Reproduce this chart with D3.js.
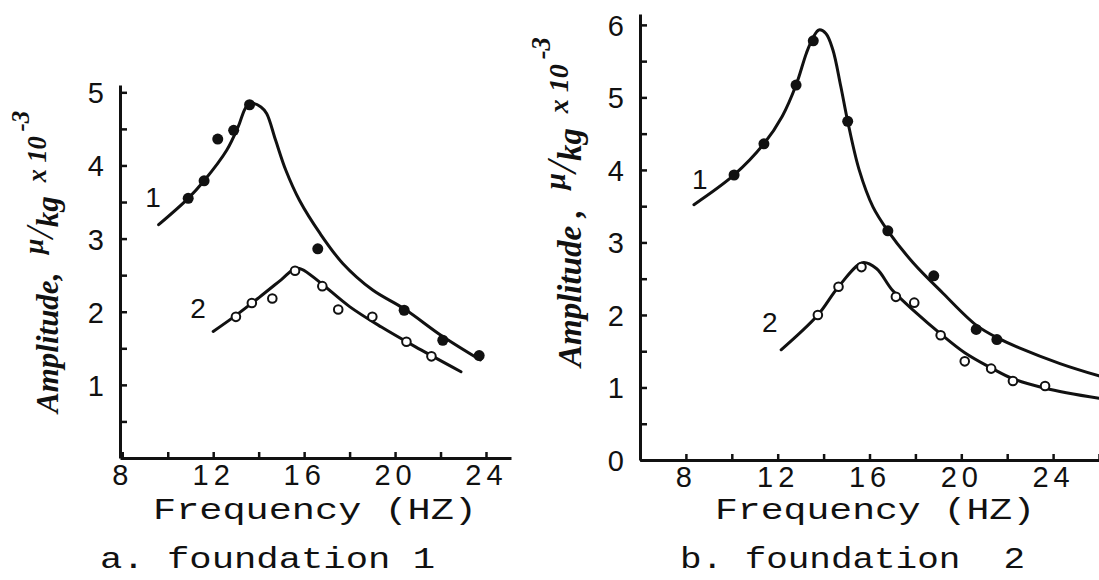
<!DOCTYPE html>
<html>
<head>
<meta charset="utf-8">
<script src="https://cdn.jsdelivr.net/npm/d3@7"></script>
<style>
  body { margin: 0; background: #fff; }
  svg { display: block; }
</style>
</head>
<body>
<div id="chart"></div>
<script>
// tick labels
var freqLabels = [8, 12, 16, 20, 24];
var freqTicks = [8, 10, 12, 14, 16, 18, 20, 22, 24, 26];
var ampTicks = [0, 0.5, 1, 1.5, 2, 2.5, 3, 3.5, 4, 4.5, 5, 5.5, 6];

// a. foundation 1 -- curve 1 (filled dots)
var a1Freq = [10.9, 11.6, 12.2, 12.9, 13.6, 16.6, 20.4, 22.1, 23.7];
var a1Amp  = [3.55, 3.79, 4.36, 4.48, 4.83, 2.86, 2.02, 1.61, 1.40];
var a1LineFreq = [9.6, 10.9, 11.6, 12.6, 13.1, 13.45, 13.7, 14.1, 14.35, 14.75, 15.2, 15.8, 16.7, 17.7, 19.0, 20.4, 22.1, 23.75];
var a1LineAmp  = [3.19, 3.55, 3.79, 4.21, 4.53, 4.80, 4.85, 4.80, 4.71, 4.34, 3.93, 3.52, 3.07, 2.66, 2.30, 2.04, 1.66, 1.34];
// a. foundation 1 -- curve 2 (open circles)
var a2Freq = [13.0, 13.7, 14.6, 15.6, 16.8, 17.5, 19.0, 20.5, 21.6];
var a2Amp  = [1.93, 2.12, 2.18, 2.56, 2.35, 2.03, 1.93, 1.59, 1.39];
var a2LineFreq = [12.0, 13.0, 14.0, 15.0, 15.6, 15.9, 16.7, 18.0, 19.4, 20.9, 22.9];
var a2LineAmp  = [1.73, 1.95, 2.19, 2.44, 2.59, 2.58, 2.40, 2.07, 1.79, 1.52, 1.18];

// b. foundation 2 -- curve 1 (filled dots)
var b1Freq = [10.1, 11.4, 12.8, 13.55, 15.05, 16.8, 18.8, 20.65, 21.55];
var b1Amp  = [3.93, 4.36, 5.17, 5.78, 4.67, 3.16, 2.54, 1.80, 1.66];
var b1LineFreq = [8.35, 10.1, 11.4, 12.2, 12.8, 13.25, 13.55, 13.8, 14.1, 14.4, 14.75, 15.05, 15.55, 16.15, 16.8, 17.9, 19.2, 20.65, 21.6, 22.5, 24.3, 26.0];
var b1LineAmp  = [3.52, 3.93, 4.36, 4.74, 5.17, 5.61, 5.83, 5.93, 5.88, 5.66, 5.15, 4.67, 4.00, 3.49, 3.16, 2.72, 2.30, 1.86, 1.68, 1.55, 1.33, 1.16];
// b. foundation 2 -- curve 2 (open circles)
var b2Freq = [13.75, 14.65, 15.65, 17.15, 17.95, 19.1, 20.15, 21.3, 22.25, 23.65];
var b2Amp  = [2.0, 2.39, 2.66, 2.25, 2.17, 1.72, 1.36, 1.26, 1.09, 1.02];
var b2LineFreq = [12.15, 13.75, 14.65, 15.7, 16.3, 17.0, 18.0, 19.1, 20.15, 21.3, 22.25, 23.65, 26.0];
var b2LineAmp  = [1.52, 2.0, 2.39, 2.72, 2.64, 2.34, 2.04, 1.74, 1.48, 1.27, 1.12, 0.99, 0.85];

// curve number labels [text, freq, amp]
var aCurveLabels = [["1", 9.35, 3.57], ["2", 11.33, 2.05]];
var bCurveLabels = [["1", 8.61, 3.88], ["2", 11.66, 1.90]];

var W = 1099, H = 580;
var svg = d3.select("#chart").append("svg")
  .attr("width", W).attr("height", H);

function zip(f, a) { return f.map(function(d, i) { return {f: d, a: a[i]}; }); }

function panel(o) {
  var x = d3.scaleLinear().domain(o.xDom).range(o.xRange);
  var y = d3.scaleLinear().domain(o.yDom).range(o.yRange);
  var g = svg.append("g");

  var xAxis = d3.axisBottom(x)
    .tickValues(freqTicks.filter(function(d) { return d >= o.xDom[0] && d <= o.xDom[1]; }))
    .tickSizeInner(-6).tickSizeOuter(0).tickPadding(6)
    .tickFormat(function(d) { return freqLabels.indexOf(d) >= 0 ? d : ""; });
  var yAxis = d3.axisLeft(y)
    .tickValues(ampTicks.filter(function(d) { return d > 0 && d <= o.yDom[1]; }).concat(o.showZero ? [0] : []))
    .tickSizeInner(-7).tickSizeOuter(0).tickPadding(16)
    .tickFormat(function(d) { return d % 1 === 0 ? d : ""; });

  var gx = g.append("g").attr("transform", "translate(0," + o.yRange[0] + ")").call(xAxis);
  var gy = g.append("g").attr("transform", "translate(" + o.xRange[0] + ",0)").call(yAxis);
  [gx, gy].forEach(function(a) {
    a.select(".domain").attr("stroke", "#111").attr("stroke-width", 3);
    a.selectAll(".tick line").attr("stroke", "#111").attr("stroke-width", 2.5);
    a.selectAll(".tick text").attr("fill", "#111")
      .style("font-family", "'Liberation Sans', Arial, sans-serif")
      .style("font-size", "29px");
  });
  gx.selectAll(".tick text").attr("letter-spacing", "5px");
  gy.selectAll(".tick text").attr("dy", "0.36em");

  var line = d3.line()
    .curve(d3.curveCatmullRom.alpha(0.5))
    .x(function(d) { return x(d.f); })
    .y(function(d) { return y(d.a); });

  o.lines.forEach(function(l) {
    g.append("path").datum(l)
      .attr("fill", "none").attr("stroke", "#111")
      .attr("stroke-width", 3).attr("stroke-linecap", "round")
      .attr("d", line);
  });

  g.append("g").selectAll("circle").data(o.filled).enter().append("circle")
    .attr("cx", function(d) { return x(d.f); })
    .attr("cy", function(d) { return y(d.a); })
    .attr("r", 5.5).attr("fill", "#111");

  g.append("g").selectAll("circle").data(o.open).enter().append("circle")
    .attr("cx", function(d) { return x(d.f); })
    .attr("cy", function(d) { return y(d.a); })
    .attr("r", 4.3).attr("fill", "#fff").attr("stroke", "#111").attr("stroke-width", 2);

  g.append("g").selectAll("text").data(o.labels).enter().append("text")
    .attr("x", function(d) { return x(d[1]); })
    .attr("y", function(d) { return y(d[2]); })
    .attr("dy", "0.36em")
    .attr("text-anchor", "middle")
    .style("font-family", "'Liberation Sans', Arial, sans-serif")
    .style("font-size", "28px")
    .attr("fill", "#111")
    .text(function(d) { return d[0]; });

  // y axis title (rotated)
  var s = o.tSize;
  var t = g.append("text")
    .attr("transform", "translate(" + o.yTitle[0] + "," + o.yTitle[1] + ") rotate(-90)")
    .attr("fill", "#111")
    .style("font-family", "'Liberation Serif', 'DejaVu Serif', serif")
    .style("font-style", "italic")
    .style("font-weight", "bold")
    .style("font-size", s + "px");
  t.append("tspan").text("Amplitude" + o.comma);
  t.append("tspan").attr("dx", s * 0.6).attr("dy", -s * 0.5).style("font-size", (s * 0.9) + "px").text("\u03bc");
  t.append("tspan").attr("dy", s * 0.35).style("font-size", (s * 1.3) + "px").style("font-weight", "normal").text("/");
  t.append("tspan").attr("dy", s * 0.15).style("font-size", (s * 1.0) + "px").text("kg");
  t.append("tspan").attr("dx", s * 0.45).attr("dy", -s * 0.4).style("font-size", (s * 0.85) + "px").text("x 10");
  t.append("tspan").attr("dx", s * 0.15).attr("dy", -s * 0.55).style("font-size", (s * 0.8) + "px").text("-3");

  // x axis title
  g.append("text")
    .attr("x", o.xTitle[0]).attr("y", o.xTitle[1])
    .attr("textLength", o.xTitle[2]).attr("lengthAdjust", "spacingAndGlyphs")
    .attr("fill", "#111")
    .style("font-family", "'Liberation Mono', 'DejaVu Sans Mono', monospace")
    .style("font-size", "30px")
    .text("Frequency (HZ)");

  // caption
  g.append("text")
    .attr("x", o.caption[0]).attr("y", o.caption[1])
    .attr("textLength", o.caption[2]).attr("lengthAdjust", "spacingAndGlyphs")
    .attr("fill", "#111")
    .style("white-space", "pre")
    .style("font-family", "'Liberation Mono', 'DejaVu Sans Mono', monospace")
    .style("font-size", "29px")
    .text(o.caption[3]);
}

panel({
  xDom: [7.9, 25.1], xRange: [120, 511],
  yDom: [0, 5.1], yRange: [458, 85],
  showZero: false,
  lines: [zip(a1LineFreq, a1LineAmp), zip(a2LineFreq, a2LineAmp)],
  filled: zip(a1Freq, a1Amp),
  open: zip(a2Freq, a2Amp),
  labels: aCurveLabels,
  yTitle: [58, 413], comma: ",", tSize: 31,
  xTitle: [153, 519, 324],
  caption: [100, 568, 335, "a. foundation 1"]
});

panel({
  xDom: [6, 26], xRange: [640, 1099],
  yDom: [0, 6.15], yRange: [460, 14],
  showZero: true,
  lines: [zip(b1LineFreq, b1LineAmp), zip(b2LineFreq, b2LineAmp)],
  filled: zip(b1Freq, b1Amp),
  open: zip(b2Freq, b2Amp),
  labels: bCurveLabels,
  yTitle: [581, 367], comma: " ,", tSize: 33,
  xTitle: [715, 519, 320],
  caption: [680, 568, 345, "b. foundation  2"]
});
</script>
</body>
</html>
